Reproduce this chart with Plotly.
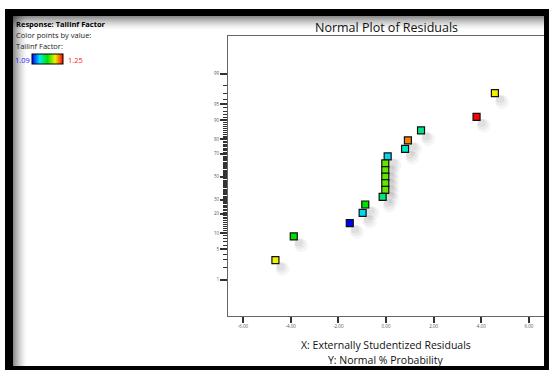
import plotly.graph_objects as go
from statistics import NormalDist

# ---- data ----
residuals = [4.57, 3.80, 1.47, 0.92, 0.80, 0.07, -0.03, -0.03, -0.03, -0.03, -0.03,
             -0.14, -0.87, -0.98, -1.52, -3.87, -4.64]
prob_pct = [97.06, 91.18, 85.29, 79.41, 73.53, 67.65, 61.76, 55.88, 50.00, 44.12, 38.24,
            32.35, 26.47, 20.59, 14.71, 8.82, 2.94]
tailinf = [1.21, 1.25, 1.147, 1.228, 1.138, 1.127, 1.186, 1.186, 1.186, 1.186, 1.186,
           1.150, 1.170, 1.127, 1.09, 1.170, 1.21]
x_ticks = [-6, -4, -2, 0, 2, 4, 6]
y_major = [1, 5, 10, 20, 30, 50, 70, 80, 90, 95, 99]
y_minor = [p for p in range(2, 99) if p not in y_major]

W, H = 549, 370
nd = NormalDist()
z = [nd.inv_cdf(p / 100) for p in prob_pct]

cscale = [[0, '#0000ff'], [0.25, '#00e8f0'], [0.5, '#00e000'], [0.75, '#f0f000'], [1, '#ff0000']]

fig = go.Figure()
# soft drop shadows
for dx, dz, s, a in [(0.30, -0.20, 14, 0.035), (0.26, -0.17, 11, 0.045), (0.22, -0.14, 8, 0.05)]:
    fig.add_trace(go.Scatter(
        x=[v + dx for v in residuals], y=[v + dz for v in z], mode='markers',
        marker=dict(symbol='circle', size=s, color=f'rgba(0,0,0,{a})', line=dict(width=0)),
        hoverinfo='skip', showlegend=False))

fig.add_trace(go.Scatter(
    x=residuals, y=z, mode='markers', showlegend=False,
    marker=dict(symbol='square', size=7, color=tailinf, colorscale=cscale,
                cmin=1.09, cmax=1.25, line=dict(color='#111111', width=1.2),
                colorbar=dict(orientation='h', lenmode='pixels', len=31,
                              thickness=10, x=32 / W, xanchor='left',
                              y=1 - 54 / H, yanchor='top', xpad=0, ypad=0,
                              outlinecolor='black', outlinewidth=1,
                              showticklabels=False, ticks=''))))

def px(x):
    return x / W

def py(y):
    return 1 - y / H

shapes = []
# gradient shadows inside the frame (top and left)
for i in range(14):
    a = 0.45 * (1 - i / 14) ** 1.5
    shapes.append(dict(type='rect', xref='paper', yref='paper', layer='above',
                       x0=px(13), x1=px(544), y0=py(16 + i + 1), y1=py(16 + i),
                       line=dict(width=0), fillcolor=f'rgba(0,0,0,{a:.3f})'))
    shapes.append(dict(type='rect', xref='paper', yref='paper', layer='above',
                       x0=px(13 + i), x1=px(13 + i + 1), y0=py(366), y1=py(16),
                       line=dict(width=0), fillcolor=f'rgba(0,0,0,{a:.3f})'))
# black frame
for (x0, y0, x1, y1) in [(5, 9, 549, 16), (5, 9, 13, 370), (544, 9, 549, 370), (5, 366, 549, 370)]:
    shapes.append(dict(type='rect', xref='paper', yref='paper', layer='above',
                       x0=px(x0), x1=px(x1), y0=py(y1), y1=py(y0),
                       line=dict(width=0), fillcolor='black'))

font = "Open Sans, Noto Sans, sans-serif"
ann = [
    dict(text='<b>Response: Tailinf Factor</b>', x=px(14), y=py(24), font=dict(size=7.5, color='black')),
    dict(text='Color points by value:', x=px(14), y=py(35), font=dict(size=7.5, color='#222')),
    dict(text='Tailinf Factor:', x=px(14), y=py(46), font=dict(size=7.5, color='#222')),
    dict(text='1.09', x=px(13), y=py(59.5), font=dict(size=7.5, color='#2222ff')),
    dict(text='1.25', x=px(66), y=py(59.5), font=dict(size=7.5, color='#ff2222')),
    dict(text='Normal Plot of Residuals', x=px(386), y=py(27), xanchor='center', font=dict(size=12.5, color='#111')),
    dict(text='X: Externally Studentized Residuals', x=px(386), y=py(345), xanchor='center', font=dict(size=10.5, color='#111')),
    dict(text='Y: Normal % Probability', x=px(386), y=py(360), xanchor='center', font=dict(size=10.5, color='#111')),
]
annotations = []
for a in ann:
    d = dict(xref='paper', yref='paper', showarrow=False, yanchor='middle', xanchor='left')
    d.update(a)
    annotations.append(d)

fig.update_layout(
    width=W, height=H, margin=dict(l=0, r=0, t=0, b=0),
    paper_bgcolor='white', plot_bgcolor='white',
    font=dict(family=font),
    shapes=shapes, annotations=annotations,
    xaxis=dict(domain=[px(228), px(544)], range=[-6.63, 6.63],
               tickvals=x_ticks, ticktext=[f'{v:.2f}' for v in x_ticks],
               ticks='outside', ticklen=6, tickwidth=1.5, tickcolor='#333',
               tickfont=dict(size=4.5, color='#555'),
               showgrid=False, zeroline=False, showline=True, linecolor='#666',
               linewidth=1, mirror=True),
    yaxis=dict(domain=[py(316), py(36)], range=[-3.152, 3.183],
               tickvals=[nd.inv_cdf(p / 100) for p in y_major],
               ticktext=[str(p) for p in y_major],
               ticks='outside', ticklen=7, tickwidth=1.5, tickcolor='#333',
               tickfont=dict(size=4.5, color='#555'),
               minor=dict(tickmode='array', tickvals=[nd.inv_cdf(p / 100) for p in y_minor],
                          ticks='outside', ticklen=4, tickwidth=1, tickcolor='#333'),
               showgrid=False, zeroline=False, showline=True, linecolor='#666',
               linewidth=1, mirror=True),
)

fig.write_html("out.html", config={'displayModeBar': False},
               post_script="document.body.style.margin='0px';document.body.style.overflow='hidden';")
